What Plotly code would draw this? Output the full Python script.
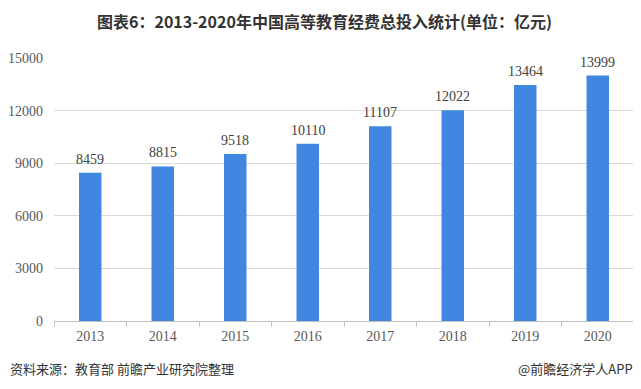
import plotly.graph_objects as go

years = ["2013", "2014", "2015", "2016", "2017", "2018", "2019", "2020"]
values = [8459, 8815, 9518, 10110, 11107, 12022, 13464, 13999]
y_ticks = [0, 3000, 6000, 9000, 12000, 15000]

serif = "Liberation Serif, Times New Roman, serif"
cjk = "Noto Sans CJK SC, sans-serif"

# page body has an 8px default margin; figure is sized to fit the window
W, H = 633, 381
ML, MR, MT, MB = 46, 7, 50, 68
plot_w = W - ML - MR
plot_h = H - MT - MB

fig = go.Figure(go.Bar(
    x=years, y=values,
    marker=dict(color="#4187E2", line=dict(width=0)),
    cliponaxis=False,
    hoverinfo="x+y",
))

for i, v in enumerate(values):
    fig.add_annotation(x=i, y=v, text=str(v), showarrow=False,
                       yanchor="bottom", yshift=4,
                       font=dict(family=serif, size=14, color="#404040"))

fig.update_layout(
    width=W, height=H,
    margin=dict(l=ML, r=MR, t=MT, b=MB, autoexpand=False),
    plot_bgcolor="white", paper_bgcolor="white",
    bargap=0.69,
    showlegend=False,
    title=dict(text="<b>图表6：2013-2020年中国高等教育经费总投入统计(单位：亿元)</b>",
               x=0.5, xanchor="center", y=1 - 14 / H, yanchor="middle",
               font=dict(family=cjk, size=16, color="#333333")),
    xaxis=dict(type="category", range=[-0.5, len(years) - 0.5],
               showline=True, linecolor="#BFBFBF", linewidth=1,
               ticks="outside", ticklen=5, tickcolor="#BFBFBF",
               tickson="boundaries", automargin=False, ticklabelstandoff=2,
               tickfont=dict(family=serif, size=14, color="#595959")),
    yaxis=dict(range=[0, 15000], tickvals=y_ticks,
               ticktext=[str(v) for v in y_ticks], automargin=False,
               showgrid=True, gridcolor="#D9D9D9", gridwidth=1,
               zeroline=False, ticks="", ticklabelstandoff=10,
               tickfont=dict(family=serif, size=14, color="#595959")),
)

src_y = -(360 - (MT + plot_h)) / plot_h
fig.add_annotation(text="资料来源：教育部 前瞻产业研究院整理", xref="paper", yref="paper",
                   x=-(ML - 0) / plot_w, y=src_y,
                   xanchor="left", yanchor="middle", showarrow=False,
                   font=dict(family=cjk, size=13, color="#333333"))
fig.add_annotation(text="@前瞻经济学人APP", xref="paper", yref="paper",
                   x=1 + 1 / plot_w, y=src_y, xanchor="right", yanchor="middle", showarrow=False,
                   font=dict(family=cjk, size=13, color="#333333"))

fig.write_html("out.html")
